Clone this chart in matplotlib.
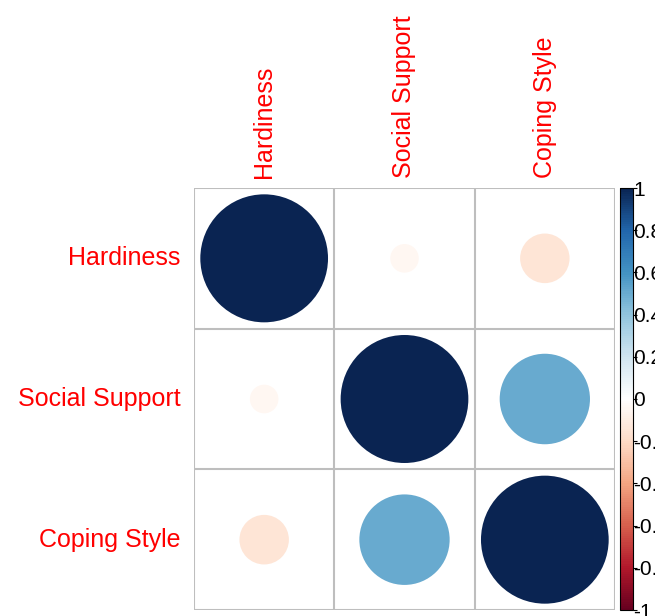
import numpy as np
import matplotlib
matplotlib.use("Agg")
from matplotlib import pyplot as plt
from matplotlib.patches import Circle
from matplotlib.colors import LinearSegmentedColormap, Normalize
from matplotlib.colorbar import ColorbarBase

plt.rcParams['font.family'] = ['Liberation Sans', 'DejaVu Sans']
plt.rcParams['axes.unicode_minus'] = False

labels = ["Hardiness", "Social Support", "Coping Style"]
corr = np.array([
    [1.00, -0.05, -0.15],
    [-0.05, 1.00, 0.50],
    [-0.15, 0.50, 1.00],
])
cbar_ticks = [-1, -0.8, -0.6, -0.4, -0.2, 0, 0.2, 0.4, 0.6, 0.8, 1]

# corrplot style RdBu palette
col2 = ["#67001F", "#B2182B", "#D6604D", "#F4A582", "#FDDBC7", "#FFFFFF",
        "#D1E5F0", "#92C5DE", "#4393C3", "#2166AC", "#0A2452"]
cmap = LinearSegmentedColormap.from_list("corrRdBu", col2, N=200)
norm = Normalize(-1, 1)

W, H = 655, 616
fig = plt.figure(figsize=(W / 100, H / 100), dpi=100)
ax = fig.add_axes([194 / W, (H - 610) / H, 421 / W, 422 / H])

n = len(labels)
for i in range(n):
    for j in range(n):
        r = corr[i, j]
        rad = 0.455 * np.sqrt(abs(r))
        ax.add_patch(Circle((j + 0.5, n - i - 0.5), rad, color=cmap(norm(r)), lw=0))

for k in range(n + 1):
    ax.axhline(k, color="#BEBEBE", lw=1.5)
    ax.axvline(k, color="#BEBEBE", lw=1.5)

ax.set_xlim(0, n)
ax.set_ylim(0, n)
for s in ax.spines.values():
    s.set_visible(False)
ax.set_xticks([])
ax.set_yticks([])

for k, lab in enumerate(labels):
    ax.text(-0.095, n - k - 0.5, lab, color="red", fontsize=18, ha="right", va="center")
    ax.text(k + 0.5, n + 0.07, lab, color="red", fontsize=18, ha="center", va="bottom",
            rotation=90)

cax = fig.add_axes([620 / W, (H - 610) / H, 13 / W, 422 / H])
cb = ColorbarBase(cax, cmap=cmap, norm=norm, orientation="vertical")
cb.set_ticks(cbar_ticks)
cb.set_ticklabels(["%g" % t for t in cbar_ticks])
cb.outline.set_linewidth(0.8)
cax.tick_params(labelsize=15, length=3, width=0.8, pad=-3)

fig.savefig("out.png", dpi=100)
